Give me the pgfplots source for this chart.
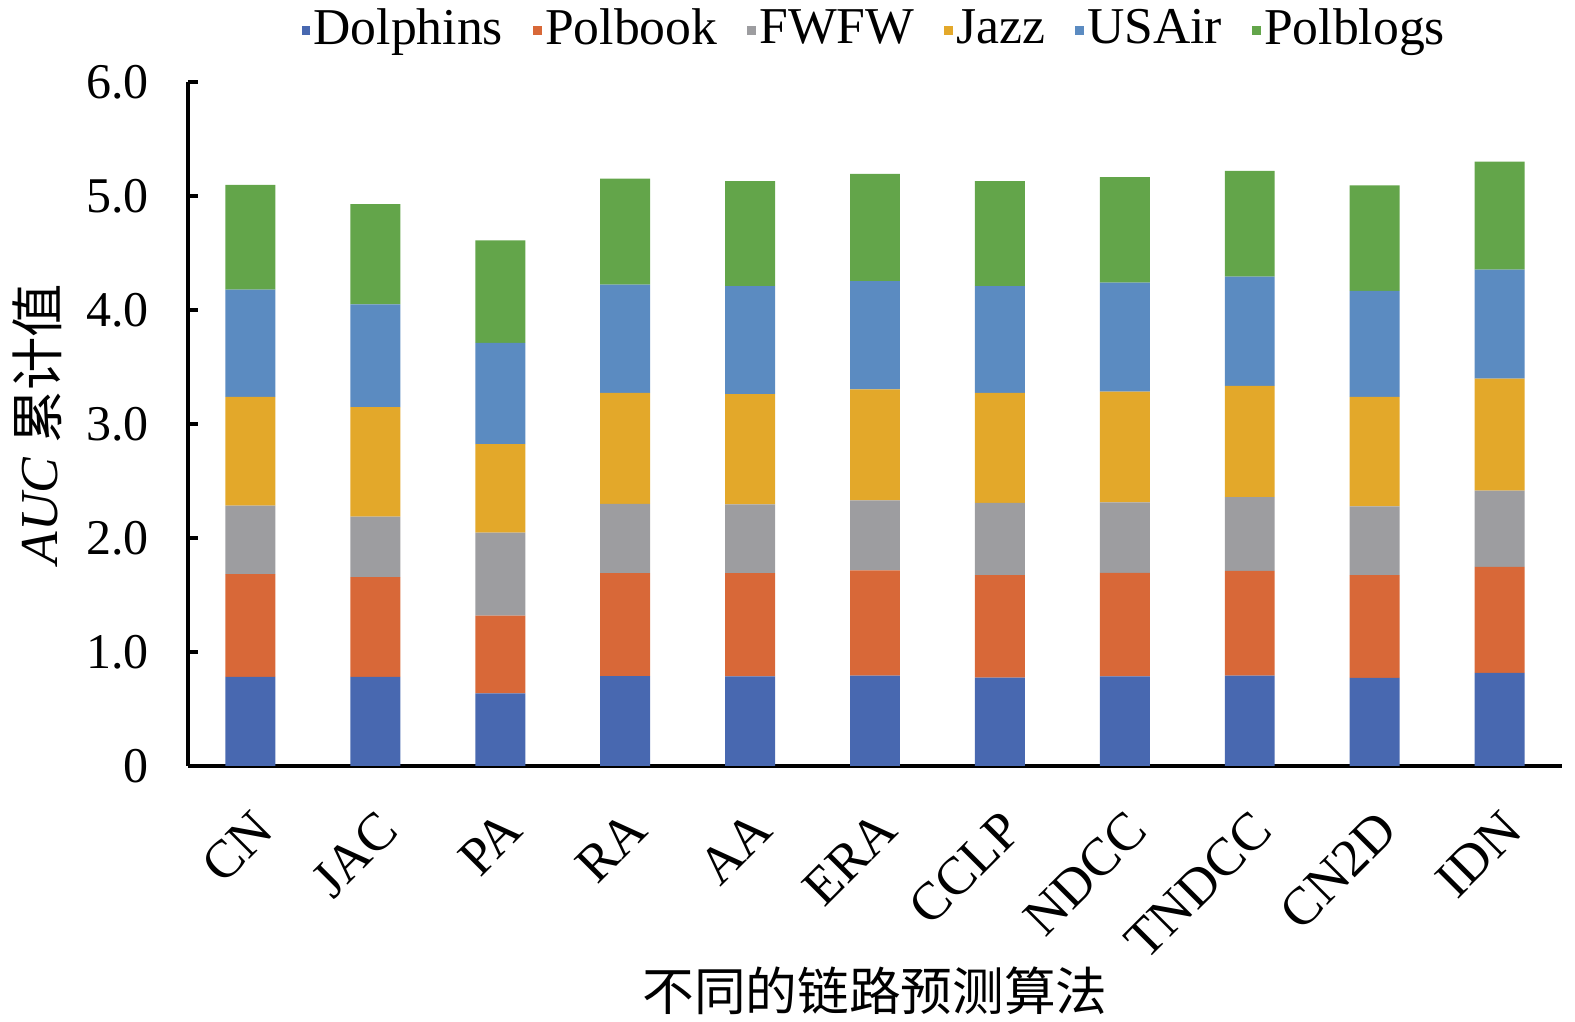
\documentclass[border=0pt]{standalone}
\usepackage{fontspec}
\setmainfont{Liberation Serif}
\newfontfamily\cjk{Noto Sans CJK SC}
\usepackage{pgfplots}
\pgfplotsset{compat=1.18}
\usetikzlibrary{calc}
\definecolor{cDol}{HTML}{4868B0}
\definecolor{cPol}{HTML}{D86838}
\definecolor{cFW}{HTML}{9D9DA0}
\definecolor{cJaz}{HTML}{E3A82A}
\definecolor{cUSA}{HTML}{5B8BC1}
\definecolor{cBlg}{HTML}{63A54A}
\begin{document}
\begin{tikzpicture}
\begin{axis}[
  scale only axis, width=412.2pt, height=205.2pt,
  ybar stacked, bar width=0.4,
  xmin=-0.5, xmax=10.5, ymin=0, ymax=6,
  axis x line*=bottom, axis y line*=left,
  axis line style={line width=1pt, black},
  xtick={0,1,2,3,4,5,6,7,8,9,10},
  xticklabels={CN,JAC,PA,RA,AA,ERA,CCLP,NDCC,TNDCC,CN2D,IDN},
  x tick style={draw=none},
  xticklabel style={rotate=45, anchor=north east, font=\fontsize{16}{16}\selectfont, inner sep=0pt},
  xticklabel shift=12.5pt,
  ytick={0,1,2,3,4,5,6},
  yticklabels={0,1.0,2.0,3.0,4.0,5.0,6.0},
  y tick style={line width=1pt, black},
  tick align=inside, major tick length=3pt,
  yticklabel style={font=\fontsize{15}{15}\selectfont, inner sep=0pt, xshift=-11.5pt},
  /pgf/number format/assume math mode=true,
  xlabel={\cjk 不同的链路预测算法},
  xlabel style={font=\fontsize{15.5}{15.5}\selectfont, at={(rel axis cs:0.5,0)}, anchor=north, inner sep=0pt, yshift=-60pt},
  ylabel={\textit{AUC} {\cjk 累计值}},
  ylabel style={font=\fontsize{16}{16}\selectfont, yshift=4pt},
  legend style={at={(0.5,1)}, anchor=south, yshift=8.5pt, draw=none, fill=none, inner sep=0pt,
    nodes={inner sep=1pt},
    legend columns=6, font=\fontsize{15.5}{15.5}\selectfont,
    /tikz/every even column/.append style={column sep=8pt},
    legend cell align=left},
  legend image code/.code={\fill[#1] (0pt,-1.6pt) rectangle (2.6pt,1.0pt);},
  every axis plot/.append style={draw=none},
]
\addplot[fill=cDol] coordinates {(0,0.782) (1,0.782) (2,0.637) (3,0.789) (4,0.786) (5,0.793) (6,0.775) (7,0.786) (8,0.793) (9,0.772) (10,0.817)};
\addplot[fill=cPol] coordinates {(0,0.902) (1,0.874) (2,0.681) (3,0.902) (4,0.905) (5,0.922) (6,0.899) (7,0.908) (8,0.919) (9,0.902) (10,0.929)};
\addplot[fill=cFW] coordinates {(0,0.601) (1,0.532) (2,0.729) (3,0.608) (4,0.604) (5,0.615) (6,0.635) (7,0.618) (8,0.646) (9,0.604) (10,0.670)};
\addplot[fill=cJaz] coordinates {(0,0.953) (1,0.961) (2,0.777) (3,0.974) (4,0.968) (5,0.974) (6,0.964) (7,0.971) (8,0.977) (9,0.960) (10,0.981)};
\addplot[fill=cUSA] coordinates {(0,0.940) (1,0.901) (2,0.888) (3,0.950) (4,0.946) (5,0.950) (6,0.936) (7,0.957) (8,0.957) (9,0.930) (10,0.957)};
\addplot[fill=cBlg] coordinates {(0,0.919) (1,0.878) (2,0.898) (3,0.929) (4,0.922) (5,0.939) (6,0.922) (7,0.926) (8,0.929) (9,0.925) (10,0.947)};
\legend{Dolphins,Polbook,FWFW,Jazz,USAir,Polblogs}
\coordinate (bl) at (rel axis cs:0,0);
\coordinate (tr) at (rel axis cs:1,1);
\end{axis}
\path[draw=none] ($(bl)+(-56.4pt,-76.8pt)$) rectangle ($(tr)+(3.9pt,24.6pt)$);
\end{tikzpicture}
\end{document}
